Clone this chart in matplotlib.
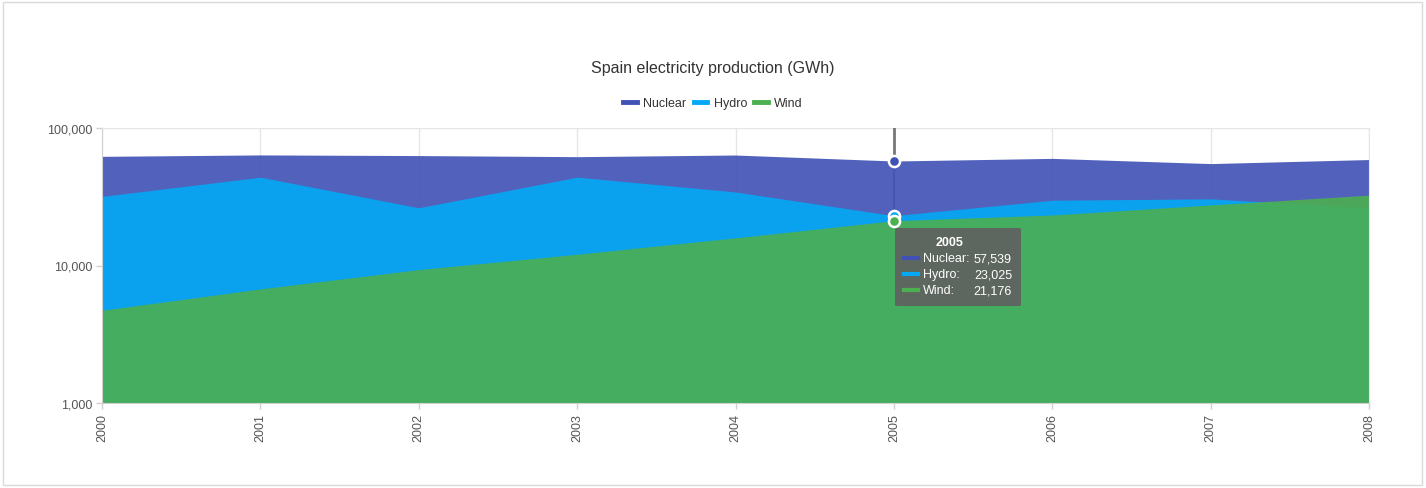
import numpy as np
import matplotlib.pyplot as plt
from matplotlib.patches import FancyBboxPatch, Rectangle
from matplotlib.ticker import FuncFormatter, FixedLocator, NullLocator

plt.rcParams['font.family'] = ['Liberation Sans', 'DejaVu Sans']

years = [2000, 2001, 2002, 2003, 2004, 2005, 2006, 2007, 2008]
nuclear = [62206, 63708, 63016, 61875, 63606, 57539, 60126, 55103, 58973]
hydro = [31807, 43864, 26270, 43897, 34240, 23025, 29831, 30522, 26200]
wind = [4727, 6759, 9342, 12075, 15900, 21176, 23297, 27568, 32496]

series = [('Nuclear', nuclear, '#3F51B5'),
          ('Hydro', hydro, '#03A9F4'),
          ('Wind', wind, '#4CAF50')]
hl = 5  # highlighted point (2005)

W, H = 1426, 489
fig = plt.figure(figsize=(W/100, H/100), dpi=100)
fig.patches.append(Rectangle((3/W, 3/H), 1419/W, 483/H, transform=fig.transFigure,
                             fill=False, edgecolor='#d9d9d9', linewidth=1))
ax = fig.add_axes([102/W, 1-404/H, 1267/W, 275/H])

for name, vals, col in series:
    ax.fill_between(years, 1000, vals, color=col, alpha=0.9, linewidth=0, label=name)

ax.set_yscale('log')
ax.set_ylim(1000, 100000)
ax.set_xlim(years[0], years[-1])
ax.yaxis.set_major_locator(FixedLocator([1000, 10000, 100000]))
ax.yaxis.set_minor_locator(NullLocator())
ax.yaxis.set_major_formatter(FuncFormatter(lambda v, p: f'{int(v):,}'))
ax.set_xticks(years)
ax.set_xticklabels([str(y) for y in years], rotation=90)
ax.tick_params(axis='both', colors='#d0d0d0', labelcolor='#555555', labelsize=9,
               length=4, width=1, pad=3)
ax.grid(True, color='#e6e6e6', linewidth=1)
ax.set_axisbelow(True)
for s in ax.spines.values():
    s.set_color('#e6e6e6')
ax.spines['left'].set_color('#d0d0d0')
ax.spines['bottom'].set_color('#d0d0d0')

# hover line + markers at 2005
x0 = years[hl]
ax.plot([x0, x0], [nuclear[hl], 100000], color='#777777', linewidth=2, zorder=5)
ax.plot([x0, x0], [wind[hl], nuclear[hl]], color='#3F51B5', linewidth=1.5, alpha=0.6, zorder=5)
for name, vals, col in series:
    ax.plot([x0], [vals[hl]], marker='o', markersize=8, markerfacecolor=col,
            markeredgecolor='white', markeredgewidth=1.8, zorder=6, clip_on=False)

# tooltip
bx, by, bw, bh = 895, 229, 126, 78
fig.patches.append(FancyBboxPatch((bx/W, 1-(by+bh)/H), bw/W, bh/H,
                                  boxstyle='round,pad=0,rounding_size=0.002',
                                  transform=fig.transFigure, facecolor='#5f6560',
                                  edgecolor='none', alpha=0.97, zorder=10))
fig.text(950/W, 1-243/H, str(x0), color='white', fontsize=9, fontweight='bold',
         ha='center', va='center', zorder=11)
for i, (name, vals, col) in enumerate(series):
    yy = 1-(259+16*i)/H
    fig.add_artist(plt.Line2D([904/W, 918/W], [yy, yy], color=col, linewidth=3,
                              transform=fig.transFigure, zorder=11))
    fig.text(923/W, yy, name + ':', color='white', fontsize=9, ha='left', va='center', zorder=11)
    fig.text(1012/W, yy, f'{vals[hl]:,}', color='white', fontsize=9, ha='right', va='center', zorder=11)

fig.text(0.5, 1-69/H, 'Spain electricity production (GWh)', ha='center', va='center',
         fontsize=11.5, color='#333333')

handles = [plt.Line2D([], [], color=c, linewidth=3.5) for _, _, c in series]
fig.legend(handles, [n for n, _, _ in series], loc='center', bbox_to_anchor=(0.5, 1-104/H),
           ncol=3, frameon=False, fontsize=9, handlelength=1.1, handletextpad=0.5,
           columnspacing=0.6, labelcolor='#333333')

fig.savefig('out.png', dpi=100)
